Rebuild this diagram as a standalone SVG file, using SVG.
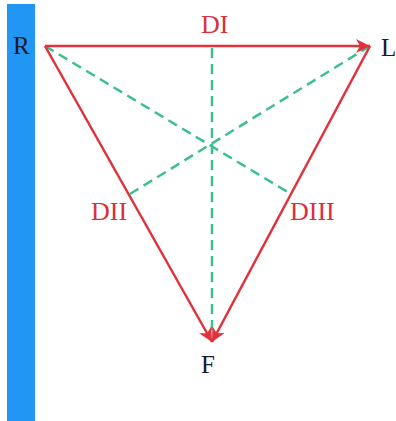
<svg xmlns="http://www.w3.org/2000/svg" width="396" height="421" viewBox="0 0 396 421">
<style>
.red{stroke:#e0323c;stroke-width:2.5;fill:none}
.grn{stroke:#3cc08c;stroke-width:2.5;fill:none;stroke-dasharray:10 6}
.lbl{font-family:"Liberation Serif",serif;font-size:25px;fill:#1a1a2a}
.dl{font-family:"Liberation Serif",serif;font-size:26px;fill:#d8303c}
</style>
<defs>
<marker id="ah" markerUnits="userSpaceOnUse" markerWidth="16" markerHeight="14" refX="14" refY="7" orient="auto">
<path d="M0,0 L14,7 L0,14 L4,7 z" fill="#e0323c"/>
</marker>
</defs>
<rect id="bar" x="7" y="4" width="28" height="417" fill="#2196f3"/>
<g id="connectors">
<line class="grn" x1="45" y1="46" x2="291" y2="194"/>
<line class="grn" x1="370" y1="46" x2="130" y2="194"/>
<line class="grn" x1="212" y1="48" x2="212" y2="336"/>
<line class="red" x1="45" y1="46" x2="370" y2="46" marker-end="url(#ah)"/>
<line class="red" x1="370" y1="46" x2="212" y2="342" marker-end="url(#ah)"/>
<line class="red" x1="45" y1="46" x2="212" y2="342" marker-end="url(#ah)"/>
</g>
<g id="R"><text class="lbl" x="13" y="54">R</text></g>
<g id="L"><text class="lbl" x="381" y="56">L</text></g>
<g id="F"><text class="lbl" x="201" y="373">F</text></g>
<g id="DI"><text class="dl" x="201" y="33">DI</text></g>
<g id="DII"><text class="dl" x="91" y="220">DII</text></g>
<g id="DIII"><text class="dl" x="290" y="220">DIII</text></g>
</svg>
